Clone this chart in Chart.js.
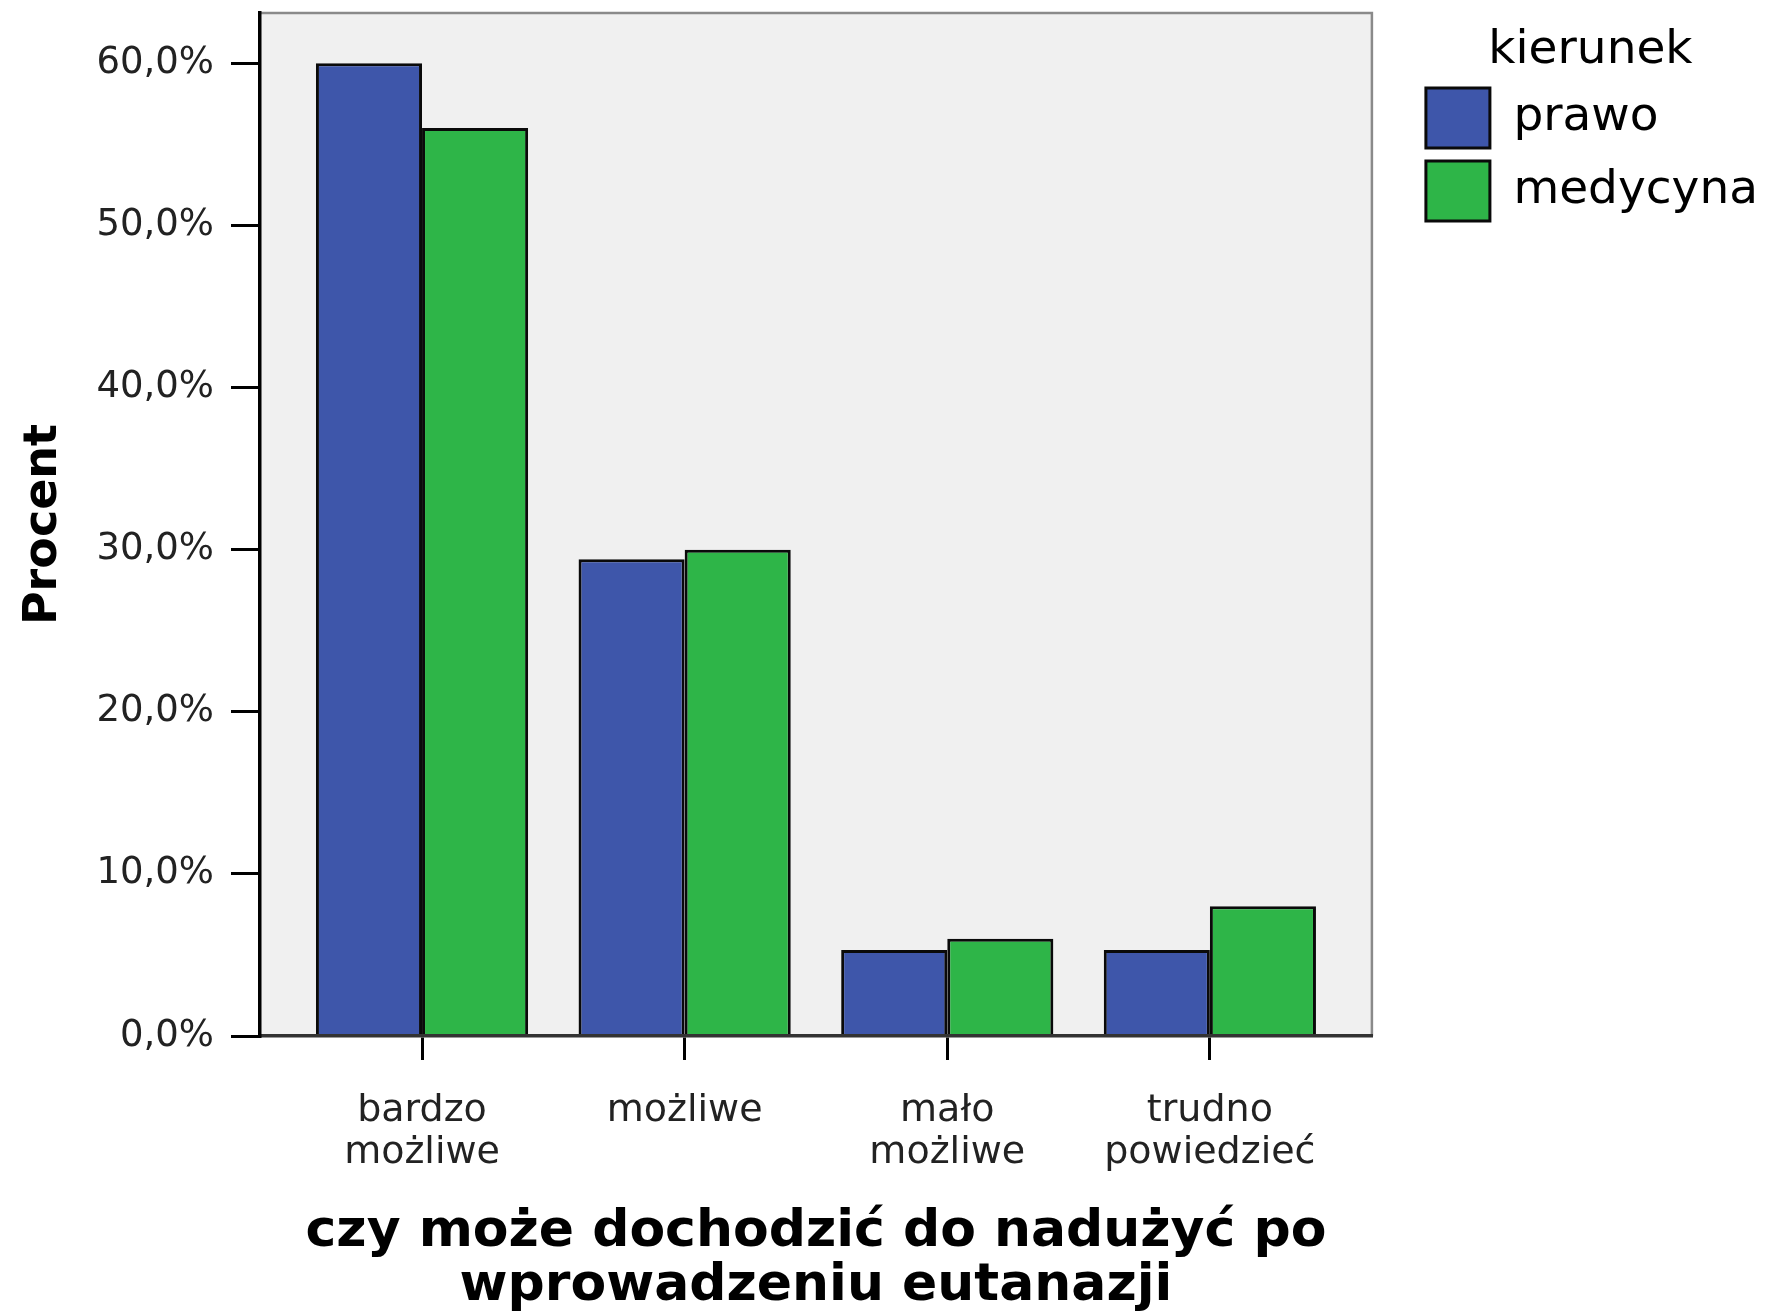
<!DOCTYPE html>
<html><head><meta charset="utf-8">
<script src="https://cdn.jsdelivr.net/npm/chart.js@4.4.1/dist/chart.umd.min.js"></script>
<style>html,body{margin:0;padding:0;background:#fff;} #wrap{width:1768px;height:1311px;position:relative;}</style>
</head><body><div id="wrap"><canvas id="c" width="1768" height="1311"></canvas></div>
<script>
const categories = [["bardzo", "możliwe"], "możliwe", ["mało", "możliwe"], ["trudno", "powiedzieć"]];
const seriesNames = ["prawo", "medycyna"];
const prawo = [60.0, 29.4, 5.3, 5.3];
const medycyna = [56.0, 30.0, 6.0, 8.0];
const yTickValues = [0, 10, 20, 30, 40, 50, 60];
const yMax = 63.1;
const legendTitle = "kierunek";
const yTitle = "Procent";
const xTitle = ["czy może dochodzić do nadużyć po", "wprowadzeniu eutanazji"];

const FONT = "DejaVu Sans";

const plotFrame = {
  id: 'plotFrame',
  beforeDraw(chart) {
    const {ctx, chartArea: {left, top, right, bottom}} = chart;
    ctx.save();
    ctx.fillStyle = '#ffffff';
    ctx.fillRect(0, 0, chart.width, chart.height);
    ctx.fillStyle = '#f0f0f0';
    ctx.fillRect(left, top, right - left, bottom - top);
    ctx.strokeStyle = '#8a8a8a';
    ctx.lineWidth = 2.5;
    ctx.beginPath();
    ctx.moveTo(left, top);
    ctx.lineTo(right, top);
    ctx.lineTo(right, bottom);
    ctx.stroke();
    ctx.restore();
  }
};

const toPoints = arr => arr.map((v, i) => ({x: i, y: v}));

new Chart(document.getElementById('c'), {
  type: 'bar',
  data: {
    datasets: [
      {label: seriesNames[0], data: toPoints(prawo), backgroundColor: '#3e56aa', borderColor: '#0a0a0a', borderWidth: 3,
       categoryPercentage: 0.808, barPercentage: 1},
      {label: seriesNames[1], data: toPoints(medycyna), backgroundColor: '#2eb548', borderColor: '#0a0a0a', borderWidth: 3,
       categoryPercentage: 0.808, barPercentage: 1}
    ]
  },
  options: {
    responsive: false,
    animation: false,
    devicePixelRatio: 1,
    layout: {padding: {top: 13, left: 0, right: 0, bottom: 0}, autoPadding: false},
    plugins: {
      tooltip: {enabled: false},
      legend: {
        position: 'right', align: 'start', maxWidth: 420,
        title: {display: true, text: legendTitle, color: '#000',
                font: {family: FONT, size: 47, lineHeight: 1}, padding: {top: 14, bottom: 1}},
        labels: {boxWidth: 64, boxHeight: 60, padding: 13, color: '#000',
                 font: {family: FONT, size: 47}}
      }
    },
    scales: {
      x: {
        type: 'linear', min: -0.617, max: 3.617, offset: false,
        afterBuildTicks: s => { s.ticks = categories.map((c, i) => ({value: i})); },
        ticks: {callback: v => categories[v], color: '#222', padding: 30, maxRotation: 0, autoSkip: false,
                font: {family: FONT, size: 38, lineHeight: 1.1}},
        grid: {offset: false, drawOnChartArea: false, drawTicks: true, tickLength: 24, color: '#000', lineWidth: 3},
        border: {display: true, color: '#333', width: 3.5, z: 1},
        title: {display: true, text: xTitle, color: '#000',
                font: {family: FONT, size: 52, weight: 'bold', lineHeight: 1.04}, padding: {top: 0, bottom: -3}},
        afterFit: s => { s.height = 275; s.paddingLeft = 0; s.paddingRight = 0; }
      },
      y: {
        min: 0, max: yMax,
        afterBuildTicks: s => { s.ticks = yTickValues.map(v => ({value: v})); },
        ticks: {callback: v => v.toFixed(1).replace('.', ',') + '%', color: '#222', padding: 17,
                font: {family: FONT, size: 37}},
        grid: {drawOnChartArea: false, tickLength: 29, color: '#000', lineWidth: 3},
        border: {display: true, color: '#000', width: 3.5, z: 1},
        title: {display: true, text: yTitle, color: '#000',
                font: {family: FONT, size: 46, weight: 'bold', lineHeight: 1.2}, padding: {top: 16, bottom: 0}},
        afterFit: s => { s.width = 260; s.paddingTop = 0; s.paddingBottom = 0; }
      },
      gap: {
        type: 'linear', position: 'right', display: true,
        grid: {display: false}, ticks: {display: false}, border: {display: false},
        afterFit: s => { s.width = 41; }
      }
    }
  },
  plugins: [plotFrame]
});
</script>
</body></html>
